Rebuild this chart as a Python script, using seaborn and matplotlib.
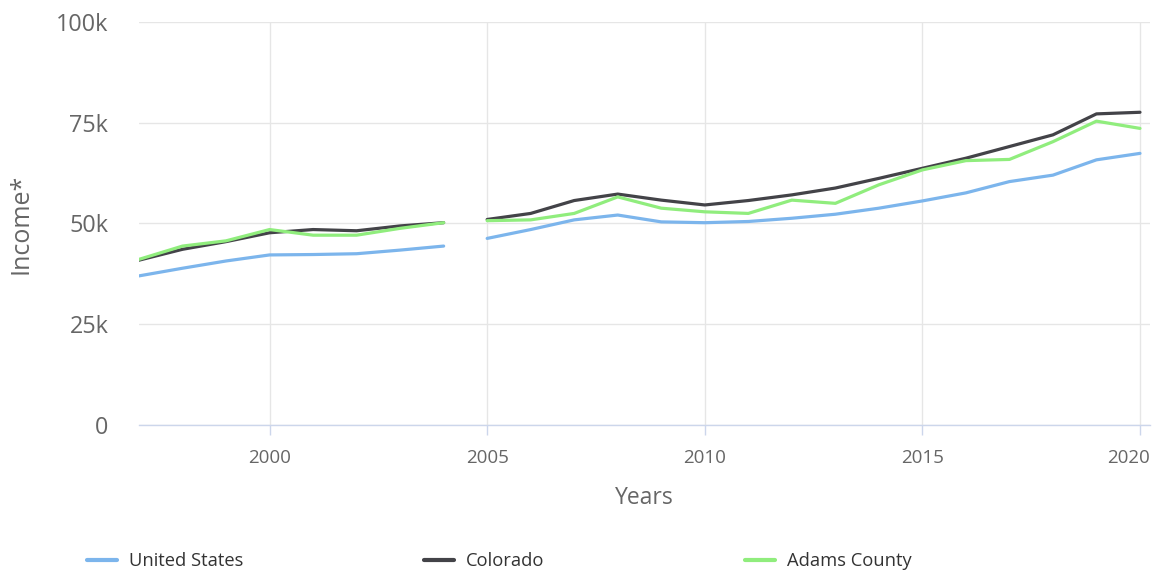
import numpy as np
import pandas as pd
import matplotlib
matplotlib.use("Agg")
import matplotlib.pyplot as plt
from matplotlib.lines import Line2D
from matplotlib.ticker import FuncFormatter
from matplotlib.transforms import ScaledTranslation
import seaborn as sns

years = list(range(1997, 2021))
united_states = [37.0, 38.9, 40.7, 42.2, 42.3, 42.5, 43.4, 44.4,
                 46.3, 48.5, 50.9, 52.1, 50.4, 50.2, 50.5, 51.3, 52.3,
                 53.8, 55.6, 57.6, 60.4, 62.0, 65.8, 67.4]
colorado = [40.9, 43.6, 45.5, 47.7, 48.5, 48.2, 49.4, 50.2,
            51.0, 52.5, 55.7, 57.3, 55.8, 54.6, 55.7, 57.1, 58.8,
            61.2, 63.7, 66.2, 69.1, 72.0, 77.2, 77.6]
adams_county = [41.1, 44.4, 45.7, 48.5, 47.1, 47.1, 48.8, 50.2,
                50.7, 50.9, 52.5, 56.6, 53.8, 52.9, 52.5, 55.8, 55.0,
                59.6, 63.3, 65.6, 65.9, 70.3, 75.4, 73.6]
series_names = ["United States", "Colorado", "Adams County"]
series_colors = ["#7cb5ec", "#434348", "#90ed7d"]
y_ticks = [0, 25000, 50000, 75000, 100000]
x_ticks = [2000, 2005, 2010, 2015, 2020]
gap_after = 2004

rows = []
for name, vals in zip(series_names, [united_states, colorado, adams_county]):
    for yr, v in zip(years, vals):
        rows.append({"Year": yr, "Income": v * 1000, "Region": name,
                     "Segment": 0 if yr <= gap_after else 1})
df = pd.DataFrame(rows)

sns.set_theme(style="white")
plt.rcParams["font.family"] = ["Open Sans", "DejaVu Sans"]

fig = plt.figure(figsize=(11.55, 5.70), dpi=100)
ax = fig.add_axes([139 / 1155, 1 - 425 / 570, (1150 - 139) / 1155, (425 - 22) / 570])

sns.lineplot(data=df, x="Year", y="Income", hue="Region", units="Segment",
             estimator=None, palette=dict(zip(series_names, series_colors)),
             hue_order=series_names, linewidth=2.3, legend=False, ax=ax, zorder=3)

ax.set_xlim(1997, 2020.23)
ax.set_ylim(0, 100000)
ax.set_xticks(x_ticks)
ax.set_yticks(y_ticks)
ax.yaxis.set_major_formatter(FuncFormatter(lambda v, p: "0" if v == 0 else f"{v/1000:.0f}k"))

ax.grid(True, axis="y", color="#e6e6e6", linewidth=1.0, zorder=0)
ax.grid(True, axis="x", color="#e6e6e6", linewidth=1.0, zorder=0)
for s in ["top", "right", "left"]:
    ax.spines[s].set_visible(False)
ax.spines["bottom"].set_color("#ccd6eb")
ax.spines["bottom"].set_linewidth(1.0)

ax.tick_params(axis="x", which="major", bottom=True, length=7, width=1,
               color="#ccd6eb", pad=10, labelsize=13.5, labelcolor="#666666")
ax.tick_params(axis="y", left=False, length=0, pad=22, labelsize=16.8,
               labelcolor="#666666")

# keep the last year label inside the figure, as the reference does
fig.canvas.draw()
last_lab = ax.get_xticklabels()[-1]
last_lab.set_transform(last_lab.get_transform() +
                       ScaledTranslation(-11 / 100, 0, fig.dpi_scale_trans))

ax.set_xlabel("Years", fontsize=16.5, color="#666666", labelpad=14)
ax.set_ylabel("Income*", fontsize=18, color="#666666", labelpad=16)

legend_x = [87, 424, 745]
for name, col, lx in zip(series_names, series_colors, legend_x):
    h = Line2D([], [], color=col, linewidth=3)
    fig.legend([h], [name], loc="center left",
               bbox_to_anchor=(lx / 1155, 1 - 561 / 570),
               frameon=False, fontsize=13.2, handlelength=1.65,
               handletextpad=0.62, borderpad=0, borderaxespad=0,
               labelcolor="#333333")

fig.savefig("out.png", dpi=100)
